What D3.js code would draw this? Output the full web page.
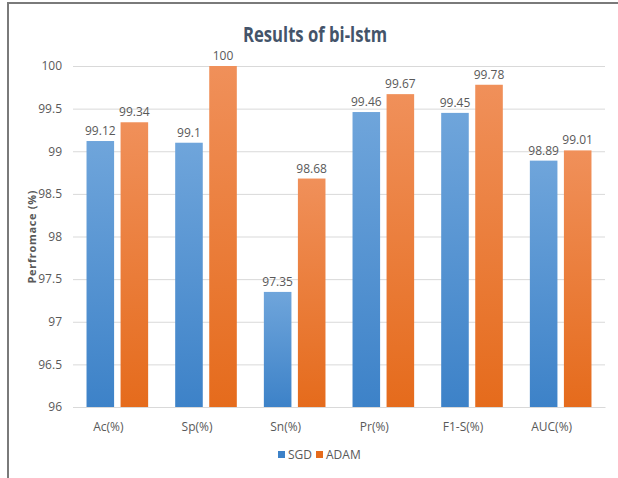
<!DOCTYPE html>
<html>
<head>
<meta charset="utf-8">
<script src="https://cdn.jsdelivr.net/npm/d3@7/dist/d3.min.js"></script>
<style>
  html, body { margin: 0; padding: 0; background: #fff; }
  svg { display: block; }
  text { font-family: "Open Sans", "Liberation Sans", sans-serif; }
</style>
</head>
<body>
<svg id="chart" width="618" height="478"></svg>
<script>
// Metrics and scores of the bi-lstm model for each optimiser
const categories = ["Ac(%)", "Sp(%)", "Sn(%)", "Pr(%)", "F1-S(%)", "AUC(%)"];
const seriesNames = ["SGD", "ADAM"];
const sgdValues = [99.12, 99.1, 97.35, 99.46, 99.45, 98.89];
const adamValues = [99.34, 100, 98.68, 99.67, 99.78, 99.01];
const yTicks = [96, 96.5, 97, 97.5, 98, 98.5, 99, 99.5, 100];

const seriesValues = { SGD: sgdValues, ADAM: adamValues };

const svg = d3.select("#chart");
const W = 618, H = 478;
const plot = { left: 73, right: 605, top: 66, bottom: 407 };

// Gradients for the bar fills
const defs = svg.append("defs");
const grads = {
  SGD: ["#6fa5db", "#3d82c8"],
  ADAM: ["#f0905a", "#e56b1c"]
};
Object.entries(grads).forEach(([k, c]) => {
  const g = defs.append("linearGradient").attr("id", "g-" + k)
    .attr("x1", 0).attr("y1", 0).attr("x2", 0).attr("y2", 1);
  g.append("stop").attr("offset", "0%").attr("stop-color", c[0]);
  g.append("stop").attr("offset", "100%").attr("stop-color", c[1]);
});

// Frame edges
svg.append("line").attr("x1", 8).attr("x2", 8).attr("y1", 2).attr("y2", H)
  .attr("stroke", "#7a7a7a").attr("stroke-width", 2);
svg.append("line").attr("x1", 7).attr("x2", W).attr("y1", 3).attr("y2", 3)
  .attr("stroke", "#7a7a7a").attr("stroke-width", 2);

const x0 = d3.scaleBand().domain(categories).range([plot.left, plot.right])
  .paddingInner(0.305).paddingOuter(0.1525);
const x1 = d3.scaleBand().domain(seriesNames).range([0, x0.bandwidth()])
  .paddingInner(0.19);
const y = d3.scaleLinear().domain([96, 100]).range([plot.bottom, plot.top]);

// Gridlines and y axis labels
const yAxis = d3.axisLeft(y).tickValues(yTicks)
  .tickSize(-(plot.right - plot.left)).tickPadding(11)
  .tickFormat(d3.format("~g"));
const gy = svg.append("g").attr("transform", `translate(${plot.left},0)`).call(yAxis);
gy.select(".domain").remove();
gy.selectAll(".tick line").attr("stroke", "#d9d9d9").attr("stroke-width", 1);
gy.selectAll(".tick text").attr("fill", "#595959").attr("font-size", 12);

// Category axis
const xAxis = d3.axisBottom(x0).tickSize(0).tickPadding(15);
const gx = svg.append("g").attr("transform", `translate(0,${plot.bottom})`).call(xAxis);
gx.select(".domain").attr("stroke", "#d9d9d9");
gx.selectAll(".tick text").attr("fill", "#595959").attr("font-size", 12).attr("dx", -9);

// Bars
const groups = svg.append("g").selectAll("g").data(categories).join("g")
  .attr("transform", d => `translate(${x0(d)},0)`);
const barData = (c, i) => seriesNames.map(s => ({ s, v: seriesValues[s][i] }));
groups.selectAll("rect").data((c, i) => barData(c, i)).join("rect")
  .attr("x", d => x1(d.s))
  .attr("width", x1.bandwidth())
  .attr("y", d => y(d.v))
  .attr("height", d => y(96) - y(d.v))
  .attr("fill", d => `url(#g-${d.s})`);
groups.selectAll("text").data((c, i) => barData(c, i)).join("text")
  .attr("x", d => x1(d.s) + x1.bandwidth() / 2)
  .attr("y", d => y(d.v) - 6)
  .attr("text-anchor", "middle")
  .attr("fill", "#595959").attr("font-size", 12)
  .text(d => d3.format("~g")(d.v));

// Title
svg.append("text").attr("x", 315).attr("y", 42).attr("text-anchor", "middle")
  .attr("font-size", 21).attr("font-weight", "bold").attr("fill", "#44546a")
  .attr("textLength", 144).attr("lengthAdjust", "spacingAndGlyphs")
  .text("Results of bi-lstm");

// Y axis title
svg.append("text")
  .attr("transform", "translate(36,237) rotate(-90)")
  .attr("text-anchor", "middle").attr("font-size", 11).attr("font-weight", "bold")
  .attr("fill", "#595959")
  .attr("textLength", 93).attr("lengthAdjust", "spacing")
  .text("Perfromace (%)");

// Legend
const legend = svg.append("g").attr("transform", "translate(278,451)");
const legendItems = legend.selectAll("g").data(seriesNames).join("g")
  .attr("transform", (d, i) => `translate(${i * 38},0)`);
legendItems.append("rect").attr("width", 7).attr("height", 7)
  .attr("fill", d => grads[d][1]);
legendItems.append("text").attr("x", 10).attr("y", 8)
  .attr("font-size", 12).attr("fill", "#595959").text(d => d);
</script>
</body>
</html>
